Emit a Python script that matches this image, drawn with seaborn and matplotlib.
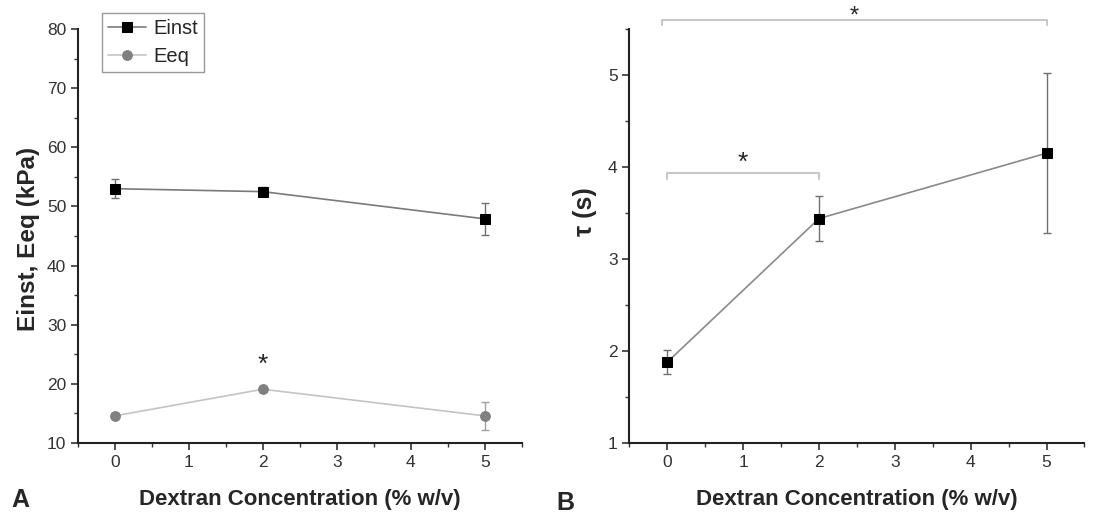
import matplotlib
matplotlib.use("Agg")
import matplotlib.pyplot as plt
import seaborn as sns
import numpy as np
import pandas as pd
from matplotlib.ticker import MultipleLocator

# ---- data ----
conc = [0, 2, 5]
einst = [53.0, 52.5, 47.9]
einst_err = [1.6, 0.7, 2.7]
eeq = [14.6, 19.1, 14.6]
eeq_err = [0.4, 0.4, 2.4]
tau = [1.88, 3.44, 4.15]
tau_err_low = [0.13, 0.24, 0.87]
tau_err_high = [0.13, 0.24, 0.87]
x_ticks = [0, 1, 2, 3, 4, 5]

sns.set_theme(style="ticks")
plt.rcParams['font.family'] = ['Liberation Sans', 'DejaVu Sans']

fig = plt.figure(figsize=(11.1, 5.17), dpi=100)
axA = fig.add_axes([0.0703, 0.143, 0.470 - 0.0703, 0.944 - 0.143])
axB = fig.add_axes([0.567, 0.143, 0.977 - 0.567, 0.944 - 0.143])

dfA = pd.DataFrame({"conc": conc * 2, "val": einst + eeq,
                    "series": ["Einst"] * 3 + ["Eeq"] * 3})

# Panel A
axA.errorbar(conc, einst, yerr=einst_err, fmt="none", ecolor="#707070",
             elinewidth=1, capsize=3, capthick=1, zorder=2)
axA.errorbar(conc, eeq, yerr=eeq_err, fmt="none", ecolor="#a0a0a0",
             elinewidth=1, capsize=3, capthick=1, zorder=2)
sns.lineplot(data=dfA[dfA.series == "Einst"], x="conc", y="val", ax=axA,
             color="#7a7a7a", lw=1.2, marker="s", markersize=7,
             markerfacecolor="black", markeredgecolor="black", label="Einst", zorder=3)
sns.lineplot(data=dfA[dfA.series == "Eeq"], x="conc", y="val", ax=axA,
             color="#c4c4c4", lw=1.2, marker="o", markersize=7,
             markerfacecolor="#808080", markeredgecolor="#808080", label="Eeq", zorder=3)
axA.text(2, 21.2, "*", ha="center", va="bottom", fontsize=19)
axA.set_xlim(-0.5, 5.5)
axA.set_ylim(10, 80)
axA.set_yticks([10, 20, 30, 40, 50, 60, 70, 80])
axA.yaxis.set_minor_locator(MultipleLocator(5))
axA.set_ylabel("Einst, Eeq (kPa)", fontsize=17.5, fontweight="bold")
axA.yaxis.set_label_coords(-0.085, 0.494)
leg = axA.legend(loc="upper left", bbox_to_anchor=(24 / 444, 1.038), frameon=True,
                 fancybox=False, edgecolor="#808080", fontsize=14.5,
                 handlelength=1.9, handletextpad=0.35, borderpad=0.3,
                 labelspacing=0.45, borderaxespad=0.0)
leg.get_frame().set_linewidth(1)

# Panel B
axB.errorbar(conc, tau, yerr=[tau_err_low, tau_err_high], fmt="none",
             ecolor="#707070", elinewidth=1, capsize=3, capthick=1, zorder=2)
sns.lineplot(x=conc, y=tau, ax=axB, color="#8a8a8a", lw=1.2, marker="s",
             markersize=7, markerfacecolor="black", markeredgecolor="black", zorder=3)
axB.set_xlim(-0.5, 5.5)
axB.set_ylim(1, 5.5)
axB.set_yticks([1, 2, 3, 4, 5])
axB.yaxis.set_minor_locator(MultipleLocator(0.5))
axB.set_ylabel("τ (s)", fontsize=18, fontweight="bold")
axB.yaxis.set_label_coords(-0.072, 0.56)

# significance brackets
def bracket(ax, x0, x1, y, h, star_y, fs=19):
    ax.plot([x0, x0, x1, x1], [y - h, y, y, y - h], color="#c8c8c8", lw=1.5,
            clip_on=False)
    ax.text((x0 + x1) / 2, star_y, "*", ha="center", va="center", fontsize=fs,
            clip_on=False)

bracket(axB, 0.0, 2.0, 3.93, 0.06, 4.04)
bracket(axB, -0.07, 5.0, 5.60, 0.06, 5.64, fs=17)

for ax in (axA, axB):
    ax.set_xticks(x_ticks)
    ax.xaxis.set_minor_locator(MultipleLocator(0.5))
    ax.set_xlabel("Dextran Concentration (% w/v)", fontsize=16,
                  fontweight="bold", labelpad=14)
    ax.tick_params(axis="both", which="major", direction="out", length=5,
                   width=1.2, labelsize=12.5, colors="#333333", labelcolor="#333333")
    ax.tick_params(axis="both", which="minor", direction="out", length=3,
                   width=1.0, colors="#333333")
    for s in ("left", "bottom"):
        ax.spines[s].set_linewidth(1.5)
        ax.spines[s].set_color("#222222")
    sns.despine(ax=ax)

fig.text(20 / 1110, 1 - 500 / 517, "A", fontsize=18, fontweight="bold",
         ha="center", va="center")
fig.text(565 / 1110, 1 - 503 / 517, "B", fontsize=18, fontweight="bold",
         ha="center", va="center")

fig.savefig("out.png", dpi=100)
